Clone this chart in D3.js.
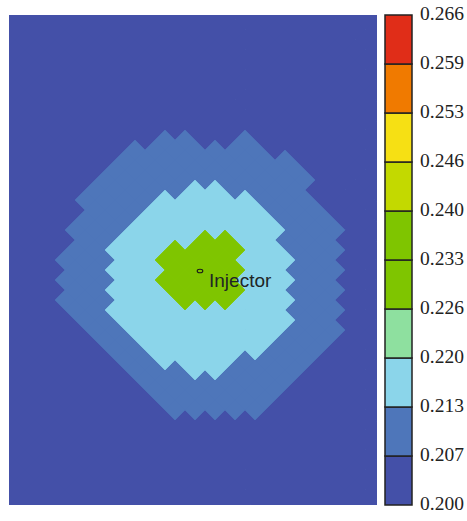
<!DOCTYPE html>
<html>
<head>
<meta charset="utf-8">
<script src="https://cdn.jsdelivr.net/npm/d3@7"></script>
<style>
  html, body { margin: 0; padding: 0; background: #ffffff; }
  svg { display: block; }
</style>
</head>
<body>
<svg id="chart" width="467" height="521"></svg>
<script>
// Colour-scale band edges (field value), bottom to top
const bandEdges = [0.2000, 0.2066, 0.2132, 0.2198, 0.2264, 0.2330, 0.2396, 0.2462, 0.2528, 0.2594, 0.2660];
// Fill colour of each band, bottom to top
const bandColors = ["#4450a8", "#4e76ba", "#8bd5ea", "#8ee09f", "#7fc500",
                    "#7fc500", "#c3d900", "#f6e014", "#f07a00", "#e02d18"];
// Field value carried by each level code used in the grid rows
const levelValues = [0.2035, 0.2100, 0.2165, 0.2230, 0.2300];

// Staggered (diamond) grid, one string per grid row, top to bottom.
// Each character is a level code; odd/even rows are offset by half a cell.
const fieldRows = [
  "00000000000000000000", "00000000000000000000", "00000000000000000000",
  "00000000000000000000", "00000000000000000000", "00000000000000000000",
  "00000000000000000000", "00000000000000000000", "00000000000000000000",
  "00000000000000000000", "00000000000000000000", "00000000000000000000",
  "00000000000000000000",
  "00000000110010000000",
  "00000011111110000000",
  "00000011111111100000",
  "00000111111111100000",
  "00000111111111110000",
  "00001111122111100000",
  "00001111222221110000",
  "00001112222221110000",
  "00001112222222111000",
  "00011122222222111000",
  "00001122224422111000",
  "00011222444422111000",
  "00011122444422211000",
  "00011222444422111000",
  "00011122444422211000",
  "00011222444422111000",
  "00011122244422211000",
  "00011222222222111000",
  "00001122222222211000",
  "00001122222222111000",
  "00000112222222111000",
  "00000112222221110000",
  "00000011222211110000",
  "00000011122111100000",
  "00000001111111100000",
  "00000001111111000000",
  "00000000111111000000",
  "00000000111110000000",
  "00000000000000000000", "00000000000000000000", "00000000000000000000",
  "00000000000000000000", "00000000000000000000", "00000000000000000000",
  "00000000000000000000", "00000000000000000000", "00000000000000000000",
  "00000000000000000000"
];

// Well location in grid units (column half-steps, row index)
const wells = [{ label: "Injector", col: 19.5, row: 26.1 }];

const svg = d3.select("#chart");
const plotBox = { left: 9, top: 15, right: 377, bottom: 505 };

// Grid-to-pixel scales (column in half-cell steps, row in row steps)
const colScale = d3.scaleLinear().domain([0, 38]).range([5, 385]);
const rowScale = d3.scaleLinear().domain([0, 50]).range([10, 510]);
const colorScale = d3.scaleThreshold().domain(bandEdges.slice(1, -1)).range(bandColors);

// Expand the rows into cells
const cells = [];
fieldRows.forEach((rowStr, r) => {
  const shift = (r + 1) % 2 === 0 ? 0 : 1;
  for (let k = 0; k < rowStr.length; k++) {
    cells.push({ row: r, col: 2 * k + shift, value: levelValues[+rowStr[k]] });
  }
});

const halfW = colScale(1) - colScale(0);
const halfH = rowScale(1) - rowScale(0);

function diamondPath(list) {
  const p = d3.path();
  list.forEach(c => {
    const cx = colScale(c.col), cy = rowScale(c.row);
    p.moveTo(cx - halfW, cy);
    p.lineTo(cx, cy - halfH);
    p.lineTo(cx + halfW, cy);
    p.lineTo(cx, cy + halfH);
    p.closePath();
  });
  return p.toString();
}

svg.append("defs").append("clipPath").attr("id", "plotClip")
  .append("rect")
  .attr("x", plotBox.left).attr("y", plotBox.top)
  .attr("width", plotBox.right - plotBox.left)
  .attr("height", plotBox.bottom - plotBox.top);

const field = svg.append("g").attr("clip-path", "url(#plotClip)");

// Filled bands: each layer covers every cell at or above its lower edge;
// a hairline stroke in the same colour hides seams between abutting cells
for (let i = 0; i < bandColors.length; i++) {
  const sel = cells.filter(c => c.value >= bandEdges[i]);
  if (!sel.length) continue;
  const fill = colorScale(bandEdges[i] + 1e-6);
  field.append("path")
    .attr("d", diamondPath(sel))
    .attr("fill", fill)
    .attr("stroke", fill)
    .attr("stroke-width", 0.7)
    .attr("stroke-linejoin", "miter");
}

// Well marker and label
const wellG = svg.append("g");
wells.forEach(w => {
  const x = colScale(w.col), y = rowScale(w.row);
  wellG.append("ellipse")
    .attr("cx", x).attr("cy", y).attr("rx", 2.8).attr("ry", 1.8)
    .attr("fill", "none").attr("stroke", "#1a1a1a").attr("stroke-width", 1.1);
  wellG.append("text")
    .attr("x", x + 9).attr("y", y + 16)
    .attr("font-family", "'Liberation Sans', Arial, sans-serif")
    .attr("font-size", 19)
    .attr("fill", "#1f2626")
    .text(w.label);
});

// Colour bar
const barScale = d3.scaleLinear()
  .domain([bandEdges[0], bandEdges[bandEdges.length - 1]])
  .range([plotBox.bottom, plotBox.top]);
const bar = svg.append("g");
const barX = 385, barW = 27;
bandColors.forEach((col, i) => {
  bar.append("rect")
    .attr("x", barX)
    .attr("y", barScale(bandEdges[i + 1]))
    .attr("width", barW)
    .attr("height", barScale(bandEdges[i]) - barScale(bandEdges[i + 1]))
    .attr("fill", col)
    .attr("stroke", "#222")
    .attr("stroke-width", 1.5);
});

const fmt = d3.format(".3f");
bar.selectAll("text.tick")
  .data(bandEdges)
  .enter().append("text")
  .attr("class", "tick")
  .attr("x", 420)
  .attr("y", d => barScale(d) + 1)
  .attr("dominant-baseline", "middle")
  .attr("font-family", "'Liberation Serif', 'Times New Roman', serif")
  .attr("font-size", 19.5)
  .attr("fill", "#222")
  .text(d => fmt(d));
</script>
</body>
</html>
